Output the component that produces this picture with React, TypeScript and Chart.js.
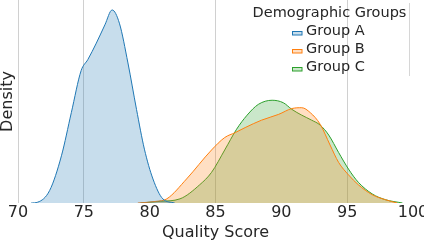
import React, { useEffect, useRef } from "react";
import { Chart, registerables } from "chart.js";

Chart.register(...registerables);

const xTitle = "Quality Score";
const yTitle = "Density";
const legendTitle = "Demographic Groups";
const groupLabels = ["Group A", "Group B", "Group C"];
const groupColors = ["31,119,180", "255,127,14", "44,160,44"];
const xTicksShownGrid = [70, 75, 85, 95];

const groupAScore = [71.0, 71.5, 72.4, 73.3, 74.05, 74.8, 75.3, 75.95, 76.6, 77.15, 77.7, 78.35, 79.0, 79.6, 80.25, 81.0, 81.9];
const groupADensity = [0, 0.001, 0.015, 0.057, 0.109, 0.16, 0.173, 0.193, 0.215, 0.233, 0.217, 0.169, 0.113, 0.065, 0.029, 0.005, 0];

const groupBScore = [79.1, 80.5, 81.3, 82.8, 84.7, 85.7, 86.5, 87.25, 88.5, 89.8, 90.8, 91.55, 92.2, 92.95, 93.7, 94.35, 95.1, 95.85, 96.9, 97.9, 98.8];
const groupBDensity = [0, 0.002, 0.005, 0.029, 0.064, 0.079, 0.085, 0.091, 0.1, 0.107, 0.114, 0.115, 0.109, 0.095, 0.07, 0.049, 0.034, 0.022, 0.01, 0.004, 0];

const groupCScore = [79.3, 80.8, 82.3, 83.8, 84.7, 85.7, 86.6, 87.4, 88.25, 89.3, 90.15, 90.8, 91.55, 92.3, 92.95, 93.6, 94.35, 95.1, 95.85, 96.9, 97.9, 99.2];
const groupCDensity = [0, 0.002, 0.005, 0.022, 0.037, 0.064, 0.089, 0.106, 0.119, 0.124, 0.121, 0.113, 0.106, 0.1, 0.094, 0.082, 0.061, 0.041, 0.025, 0.011, 0.004, 0];

const scores = [groupAScore, groupBScore, groupCScore];
const densities = [groupADensity, groupBDensity, groupCDensity];

const FONT = "'DejaVu Sans', sans-serif";
const TEXT = "#262626";

const legendPlugin = {
  id: "innerLegend",
  afterDraw(chart: any) {
    const ctx = chart.ctx;
    ctx.save();
    // frame edge
    ctx.strokeStyle = "#d6d6d6";
    ctx.lineWidth = 1;
    ctx.beginPath();
    ctx.moveTo(409.5, 3);
    ctx.lineTo(409.5, 76);
    ctx.stroke();
    ctx.fillStyle = TEXT;
    ctx.font = `14.5px ${FONT}`;
    ctx.textBaseline = "alphabetic";
    ctx.textAlign = "center";
    ctx.fillText(legendTitle, 329.5, 16.7);
    ctx.textAlign = "left";
    chart.data.datasets.forEach((ds: any, i: number) => {
      const base = 35 + i * 18;
      ctx.fillStyle = `rgba(${groupColors[i]},0.25)`;
      ctx.fillRect(292, base - 3.5, 10, 3.5);
      ctx.strokeStyle = `rgb(${groupColors[i]})`;
      ctx.lineWidth = 1;
      ctx.strokeRect(292.5, base - 3.5, 9.5, 3.5);
      ctx.fillStyle = TEXT;
      ctx.fillText(ds.label, 306, base);
    });
    ctx.restore();
  },
};

export default function App() {
  const ref = useRef<HTMLCanvasElement>(null);
  useEffect(() => {
    document.body.style.margin = "0";
    if (!ref.current) return;
    const datasets = groupLabels.map((label, i) => ({
      label,
      data: scores[i].map((x, j) => ({ x, y: densities[i][j] })),
      borderColor: `rgb(${groupColors[i]})`,
      backgroundColor: `rgba(${groupColors[i]},0.25)`,
      borderWidth: 1,
      fill: "origin",
      pointRadius: 0,
      cubicInterpolationMode: "monotone" as const,
    }));
    const chart = new Chart(ref.current, {
      type: "line",
      data: { datasets },
      plugins: [legendPlugin],
      options: {
        responsive: false,
        animation: false,
        layout: { padding: { top: 0, right: 11, left: 0, bottom: 0 } },
        plugins: { legend: { display: false }, tooltip: { enabled: false } },
        scales: {
          x: {
            type: "linear",
            min: 70,
            max: 100,
            afterFit: (s: any) => {
              s.paddingLeft = 0;
              s.paddingRight = 0;
            },
            ticks: {
              stepSize: 5,
              padding: 2,
              color: TEXT,
              font: { family: FONT, size: 16, lineHeight: 1 },
              maxRotation: 0,
            },
            grid: {
              drawTicks: false,
              color: (c: any) =>
                c.tick && xTicksShownGrid.includes(c.tick.value) ? "#d0d0d0" : "rgba(0,0,0,0)",
              lineWidth: 1,
            },
            border: { display: false },
            title: {
              display: true,
              text: xTitle,
              color: TEXT,
              font: { family: FONT, size: 16, lineHeight: 1 },
              padding: { top: 2, bottom: 3 },
            },
          },
          y: {
            min: 0,
            max: 0.245,
            ticks: { display: false },
            grid: { display: false, drawTicks: false },
            border: { display: false },
            title: {
              display: true,
              text: yTitle,
              color: TEXT,
              font: { family: FONT, size: 16, lineHeight: 1 },
              padding: { top: 0, bottom: 2 },
            },
          },
        },
      },
    });
    return () => chart.destroy();
  }, []);
  return (
    <div style={{ width: 424, height: 244 }}>
      <canvas ref={ref} width={424} height={244} />
    </div>
  );
}
